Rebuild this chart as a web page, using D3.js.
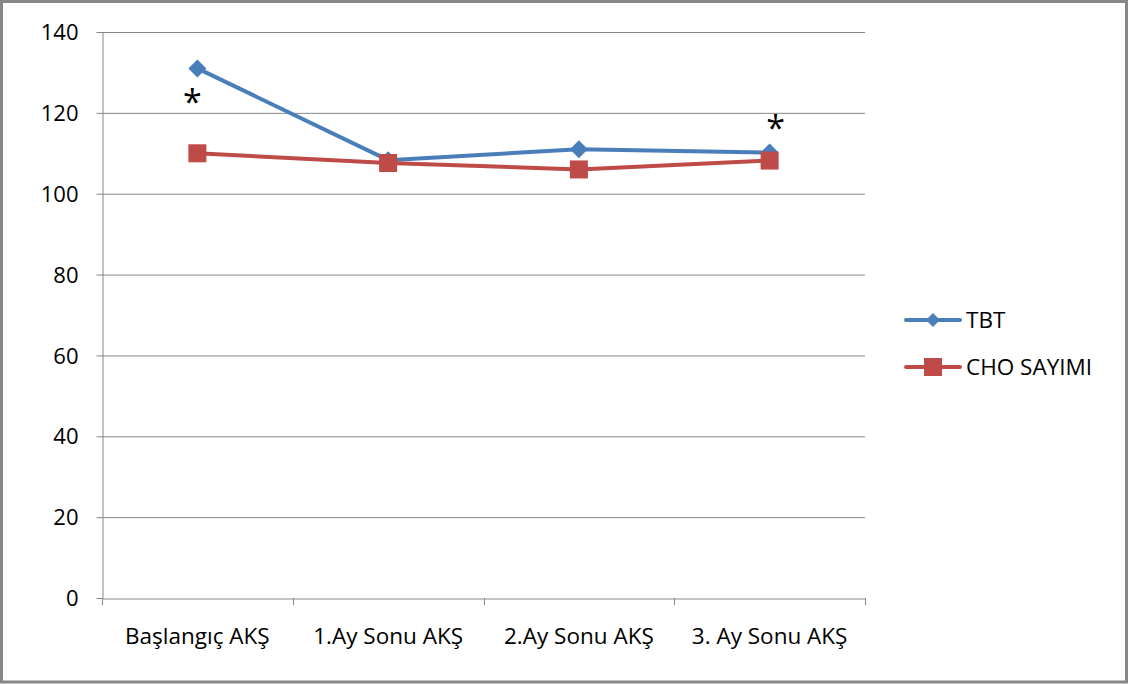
<!DOCTYPE html>
<html>
<head>
<meta charset="utf-8">
<script src="https://cdn.jsdelivr.net/npm/d3@7"></script>
<style>
  html, body { margin: 0; padding: 0; background: #fff; }
  svg { display: block; }
  text { font-family: "Open Sans", "Noto Sans", sans-serif; fill: #000; }
</style>
</head>
<body>
<svg id="chart" width="1129" height="684"></svg>
<script>
// Monthly fasting blood glucose (AKŞ) by counting method
const categories = ["Başlangıç AKŞ", "1.Ay Sonu AKŞ", "2.Ay Sonu AKŞ", "3. Ay Sonu AKŞ"];
const tbtValues = [131, 108.3, 111, 110.2];
const choValues = [110, 107.6, 106, 108.2];
const yTicks = [0, 20, 40, 60, 80, 100, 120, 140];
const seriesNames = ["TBT", "CHO SAYIMI"];

const svg = d3.select("#chart");
const W = 1129, H = 684;

// outer frame
svg.append("rect").attr("x", 1.5).attr("y", 1.5).attr("width", W - 4).attr("height", H - 3.5)
  .attr("fill", "#fff").attr("stroke", "#878787").attr("stroke-width", 3);

const plot = { left: 102, right: 865, top: 32, bottom: 598 };

const x = d3.scaleBand().domain(categories).range([plot.left, plot.right]);
const y = d3.scaleLinear().domain([0, 140]).range([plot.bottom, plot.top]);

// horizontal gridlines
svg.append("g").selectAll("line").data(yTicks.filter(d => d > 0)).join("line")
  .attr("x1", plot.left).attr("x2", plot.right)
  .attr("y1", d => y(d) + 0.5).attr("y2", d => y(d) + 0.5)
  .attr("stroke", "#878787").attr("stroke-width", 1);

// y axis
const yAxis = svg.append("g").attr("transform", `translate(${plot.left + 0.5},0)`)
  .call(d3.axisLeft(y).tickValues(yTicks).tickSize(6).tickPadding(18).tickSizeOuter(0));
yAxis.selectAll("line, path").attr("stroke", "#878787");
yAxis.selectAll("text").attr("font-size", 22).attr("dy", "0.35em")
  .style("font-family", "'Open Sans', sans-serif");

// x axis
const xAxis = svg.append("g").attr("transform", `translate(0,${plot.bottom + 0.5})`)
  .call(d3.axisBottom(x).tickSize(0).tickPadding(30));
xAxis.select("path").attr("stroke", "#878787");
xAxis.selectAll("text").attr("font-size", 22.5)
  .style("font-family", "'Open Sans', sans-serif");
// tick marks on category boundaries
const bounds = categories.map(c => x(c)).concat([plot.right]);
svg.append("g").selectAll("line").data(bounds).join("line")
  .attr("x1", d => Math.round(d) + 0.5).attr("x2", d => Math.round(d) + 0.5)
  .attr("y1", plot.bottom).attr("y2", plot.bottom + 7)
  .attr("stroke", "#878787");

const cx = c => x(c) + x.bandwidth() / 2;
const line = d3.line().x((d, i) => cx(categories[i])).y(d => y(d));

const blue = "#4a7ebb", red = "#be4b48";

// TBT series
svg.append("path").datum(tbtValues).attr("d", line)
  .attr("fill", "none").attr("stroke", blue).attr("stroke-width", 4).attr("stroke-linejoin", "round");
svg.append("g").selectAll("path").data(tbtValues).join("path")
  .attr("transform", (d, i) => `translate(${cx(categories[i])},${y(d)})`)
  .attr("d", "M0,-9L9,0L0,9L-9,0Z").attr("fill", blue);

// CHO SAYIMI series
svg.append("path").datum(choValues).attr("d", line)
  .attr("fill", "none").attr("stroke", red).attr("stroke-width", 4).attr("stroke-linejoin", "round");
svg.append("g").selectAll("rect").data(choValues).join("rect")
  .attr("x", (d, i) => cx(categories[i]) - 9).attr("y", d => y(d) - 9)
  .attr("width", 18).attr("height", 18).attr("fill", red);

// significance markers
svg.append("text").attr("x", cx(categories[0]) - 5).attr("y", y(tbtValues[0]) + 46)
  .attr("text-anchor", "middle").attr("font-size", 34).text("*");
svg.append("text").attr("x", cx(categories[3]) + 6).attr("y", y(tbtValues[3]) - 12)
  .attr("text-anchor", "middle").attr("font-size", 34).text("*");

// legend
const legend = svg.append("g").attr("transform", "translate(906,320)");
const items = [{ name: seriesNames[0], color: blue, shape: "diamond" },
               { name: seriesNames[1], color: red, shape: "square" }];
items.forEach((it, i) => {
  const g = legend.append("g").attr("transform", `translate(0,${i * 47})`);
  g.append("line").attr("x1", 0).attr("x2", 54).attr("y1", 0).attr("y2", 0)
    .attr("stroke", it.color).attr("stroke-width", 4).attr("stroke-linecap", "round");
  if (it.shape === "diamond") {
    g.append("path").attr("transform", "translate(27,0)").attr("d", "M0,-7L7,0L0,7L-7,0Z").attr("fill", it.color);
  } else {
    g.append("rect").attr("x", 18).attr("y", -9).attr("width", 18).attr("height", 18).attr("fill", it.color);
  }
  g.append("text").attr("x", 60).attr("y", 0).attr("dy", "0.35em").attr("font-size", 22.5).text(it.name);
});
</script>
</body>
</html>
